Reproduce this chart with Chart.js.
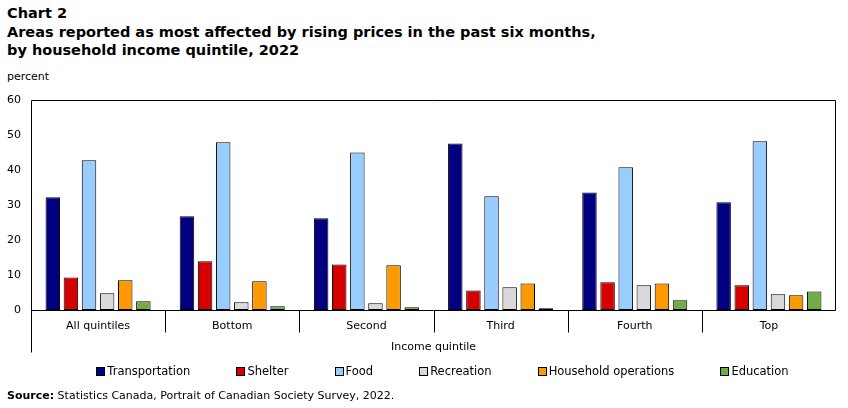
<!DOCTYPE html>
<html>
<head>
<meta charset="utf-8">
<script src="https://cdn.jsdelivr.net/npm/chart.js@4/dist/chart.umd.min.js"></script>
<style>
  html, body { margin: 0; padding: 0; background: #fff; }
  #wrap { position: relative; width: 848px; height: 408px; overflow: hidden; font-family: "DejaVu Sans", Verdana, sans-serif; color: #000; }
  #title { position: absolute; left: 7px; top: 4px; font-size: 14.5px; font-weight: bold; line-height: 18.5px; }
  #unit { position: absolute; left: 7px; top: 70px; font-size: 11px; }
  #legend { position: absolute; left: 40px; width: 805px; top: 364px; display: flex; justify-content: center; font-size: 11.5px; line-height: 14px; }
  #legend .item { display: flex; align-items: center; margin: 0 23px; white-space: nowrap; }
  #legend .sw { width: 7px; height: 7px; border: 1px solid #000; margin-right: 2px; }
  #source { position: absolute; left: 7px; top: 389px; font-size: 11px; }
  canvas { position: absolute; left: 0; top: 0; }
</style>
</head>
<body>
<div id="wrap">
  <div id="title">Chart 2<br>Areas reported as most affected by rising prices in the past six months,<br>by household income quintile, 2022</div>
  <div id="unit">percent</div>
  <canvas id="c" width="848" height="408"></canvas>
  <div id="legend"></div>
  <div id="source"><b>Source:</b> Statistics Canada, Portrait of Canadian Society Survey, 2022.</div>
</div>
<script>
const categories = ['All quintiles', 'Bottom', 'Second', 'Third', 'Fourth', 'Top'];
const seriesNames = ['Transportation', 'Shelter', 'Food', 'Recreation', 'Household operations', 'Education'];
const transportation = [32.2, 26.8, 26.2, 47.6, 33.6, 30.8];
const shelter = [9.3, 13.9, 13.0, 5.6, 7.9, 7.1];
const food = [42.8, 47.9, 45.0, 32.5, 40.8, 48.2];
const recreation = [4.8, 2.2, 1.9, 6.5, 7.1, 4.5];
const householdOperations = [8.5, 8.2, 12.8, 7.6, 7.6, 4.2];
const education = [2.5, 1.1, 0.8, 0.5, 2.8, 5.3];
const yMin = 0, yMax = 60, yStep = 10;
const xAxisTitle = 'Income quintile';

const colors = ['#000080', '#d70000', '#99ccff', '#d9d9d9', '#ff9900', '#70ad47'];
const seriesValues = [transportation, shelter, food, recreation, householdOperations, education];

const datasets = seriesNames.map((name, i) => ({
  label: name,
  data: seriesValues[i],
  backgroundColor: colors[i],
  borderColor: '#000',
  borderWidth: 1,
  borderSkipped: false,
  categoryPercentage: 0.81,
  barPercentage: 0.8
}));

// HTML legend built from the series
const lg = document.getElementById('legend');
seriesNames.forEach((name, i) => {
  const it = document.createElement('div');
  it.className = 'item';
  const sw = document.createElement('span');
  sw.className = 'sw';
  sw.style.background = colors[i];
  const tx = document.createElement('span');
  tx.textContent = name;
  it.appendChild(sw); it.appendChild(tx);
  lg.appendChild(it);
});

const frame = {
  id: 'frame',
  afterDatasetsDraw(chart) {
    const {ctx, chartArea: a, scales: {x}} = chart;
    ctx.save();
    ctx.strokeStyle = '#000';
    ctx.lineWidth = 1;
    const L = Math.round(a.left) + 0.5, R = Math.round(a.right) - 0.5;
    const T = Math.round(a.top) + 0.5, B = Math.round(a.bottom) + 0.5;
    ctx.beginPath();
    ctx.rect(L, T, R - L, B - T);
    // category separators
    for (let i = 1; i < categories.length; i++) {
      const xp = Math.round((x.getPixelForValue(i - 1) + x.getPixelForValue(i)) / 2) + 0.5;
      ctx.moveTo(xp, B);
      ctx.lineTo(xp, B + 22);
    }
    ctx.moveTo(L, B);
    ctx.lineTo(L, B + 42);
    ctx.stroke();
    ctx.restore();
  }
};

new Chart(document.getElementById('c'), {
  type: 'bar',
  data: { labels: categories, datasets },
  options: {
    responsive: false,
    animation: false,
    layout: { padding: { left: 0, top: 100, right: 12, bottom: 54 } },
    plugins: { legend: { display: false }, tooltip: { enabled: false } },
    scales: {
      x: {
        grid: { display: false, drawTicks: false },
        border: { display: false },
        ticks: { color: '#000', font: { family: 'DejaVu Sans', size: 11 }, padding: 10, maxRotation: 0, autoSkip: false },
        title: { display: true, text: xAxisTitle, color: '#000', font: { family: 'DejaVu Sans', size: 11 }, padding: { top: 0, bottom: 0 } },
        afterFit(s) { s.height = 44; }
      },
      y: {
        min: yMin, max: yMax,
        grid: { display: false, drawTicks: false },
        border: { display: false },
        ticks: { stepSize: yStep, color: '#000', font: { family: 'DejaVu Sans', size: 11 }, padding: 10 },
        afterFit(s) { s.width = 31; }
      }
    }
  },
  plugins: [frame]
});
</script>
</body>
</html>
